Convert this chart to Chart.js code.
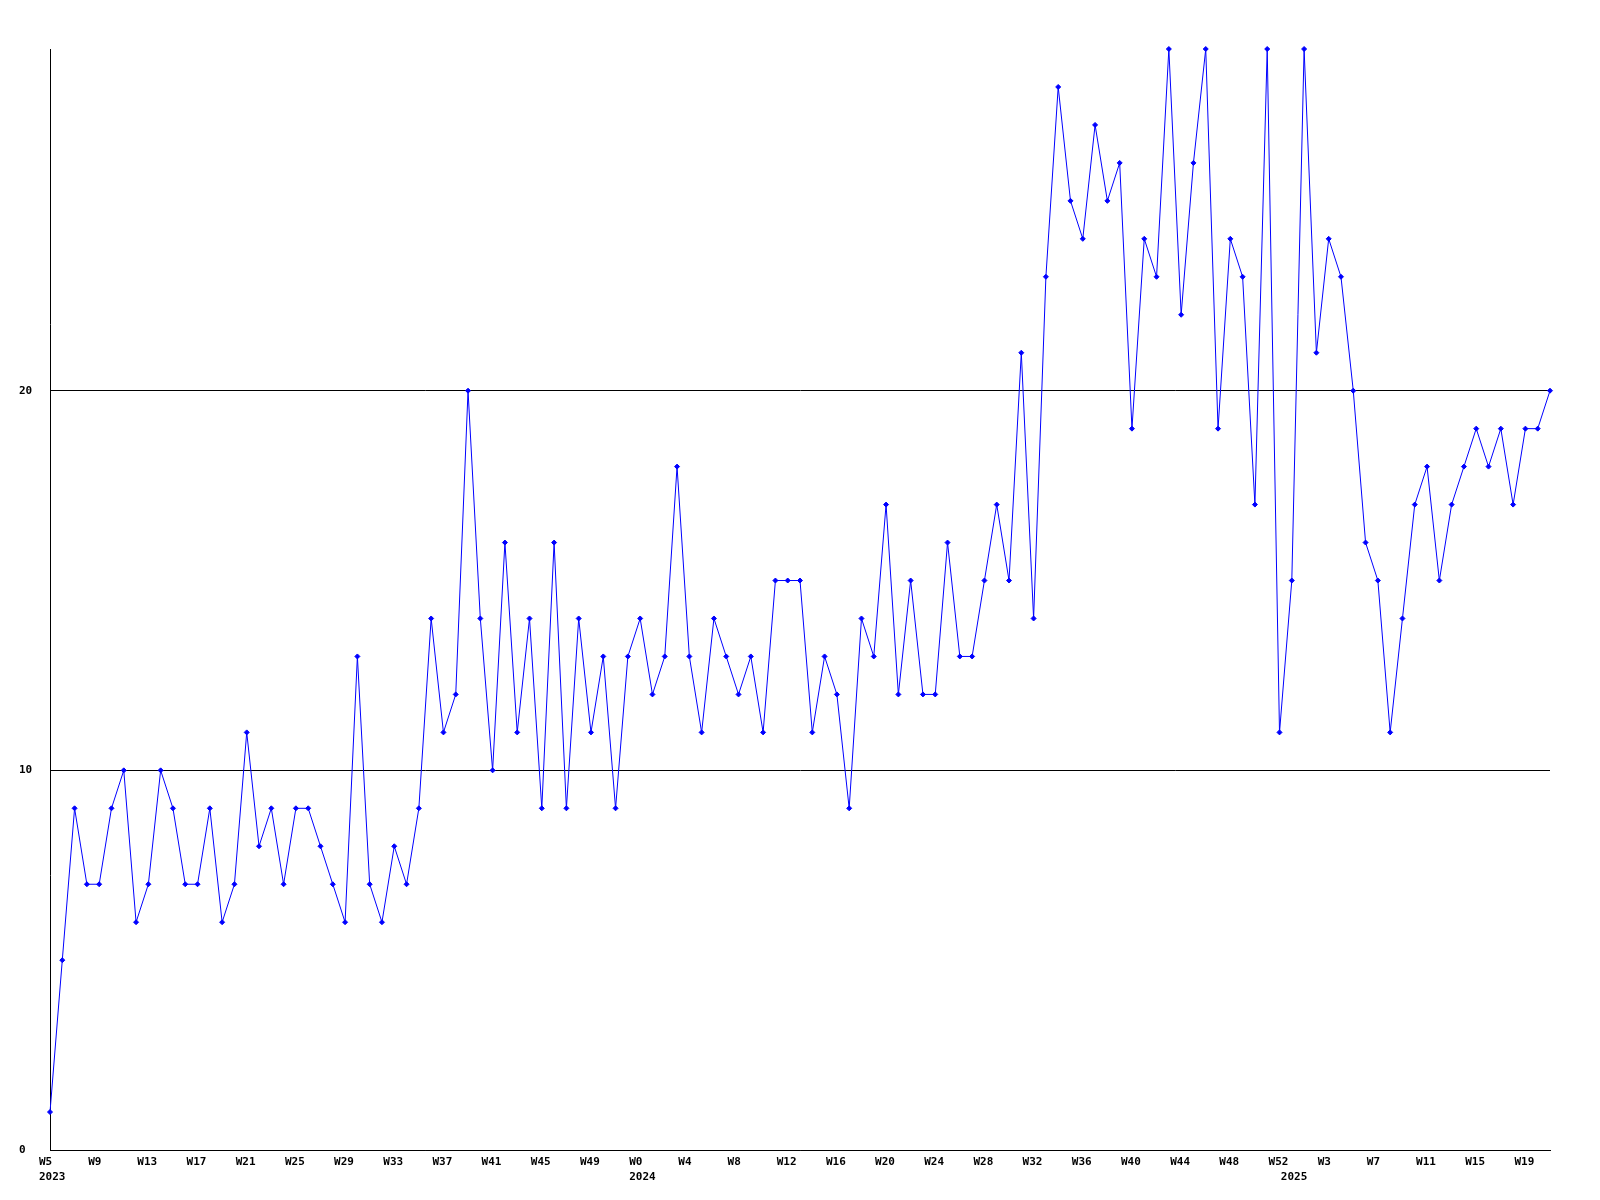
<!DOCTYPE html>
<html><head><meta charset="utf-8">
<script src="https://cdn.jsdelivr.net/npm/chart.js@4"></script>
<style>html,body{margin:0;padding:0;background:#fff}#wrap{width:1600px;height:1200px}</style>
</head><body><div id="wrap"><canvas id="c" width="1600" height="1200"></canvas></div>
<script>
// Category definition: week numbers per year
const years = ['2023', '2024', '2025'];
const firstWeek = [5, 0, 0];
const lastWeek = [52, 52, 21];

// Weekly values
const values2023 = [1, 5, 9, 7, 7, 9, 10, 6, 7, 10, 9, 7, 7, 9, 6, 7, 11, 8, 9, 7,
  9, 9, 8, 7, 6, 13, 7, 6, 8, 7, 9, 14, 11, 12, 20, 14, 10, 16, 11, 14,
  9, 16, 9, 14, 11, 13, 9, 13];
const values2024 = [14, 12, 13, 18, 13, 11, 14, 13, 12, 13, 11, 15, 15, 15, 11, 13, 12, 9, 14, 13,
  17, 12, 15, 12, 12, 16, 13, 13, 15, 17, 15, 21, 14, 23, 28, 25, 24, 27, 25, 26,
  19, 24, 23, 29, 22, 26, 29, 19, 24, 23, 17, 29, 11];
const values2025 = [15, 29, 21, 24, 23, 20, 16, 15, 11, 14, 17, 18, 15, 17, 18, 19, 18, 19, 17, 19,
  19, 20];

const yTickValues = [0, 10, 20];
const yMax = 29;
const labelEvery = 4;

const categories = [];
const yearAtIndex = {};
years.forEach((y, k) => {
  yearAtIndex[categories.length] = y;
  for (let w = firstWeek[k]; w <= lastWeek[k]; w++) categories.push('W' + w);
});
const values = values2023.concat(values2024, values2025);

const tickFont = { family: 'DejaVu Sans Mono', weight: 'bold', size: 11, lineHeight: '15px' };

new Chart(document.getElementById('c'), {
  type: 'line',
  data: {
    labels: categories,
    datasets: [{
      data: values,
      borderColor: '#0000ff',
      backgroundColor: '#0000ff',
      borderWidth: 1,
      tension: 0,
      fill: false,
      pointStyle: 'rectRot',
      pointRadius: 2.5,
      pointBorderWidth: 1,
      clip: false
    }]
  },
  options: {
    responsive: false,
    animation: false,
    devicePixelRatio: 1,
    layout: { padding: { left: 19, right: 50, top: 49, bottom: 10 } },
    plugins: { legend: { display: false }, tooltip: { enabled: false } },
    scales: {
      x: {
        type: 'category',
        offset: false,
        grid: { display: false, drawTicks: false },
        border: { display: true, color: '#000', width: 1 },
        ticks: {
          autoSkip: false, maxRotation: 0, minRotation: 0,
          align: 'start', labelOffset: -11, padding: 5,
          color: '#000', font: tickFont,
          callback: (v, i) => {
            const wk = (i % labelEvery === 0) ? categories[i] : '';
            return yearAtIndex[i] ? [wk, yearAtIndex[i]] : wk;
          }
        }
      },
      y: {
        min: 0, max: yMax,
        afterBuildTicks: s => { s.ticks = yTickValues.map(v => ({ value: v })); },
        afterFit: s => { s.width = 31; },
        grid: { color: '#000', drawTicks: false, lineWidth: 1 },
        border: { display: true, color: '#000', width: 1 },
        ticks: { crossAlign: 'far', padding: 0, color: '#000', font: tickFont }
      }
    }
  }
});
</script>
</body></html>
